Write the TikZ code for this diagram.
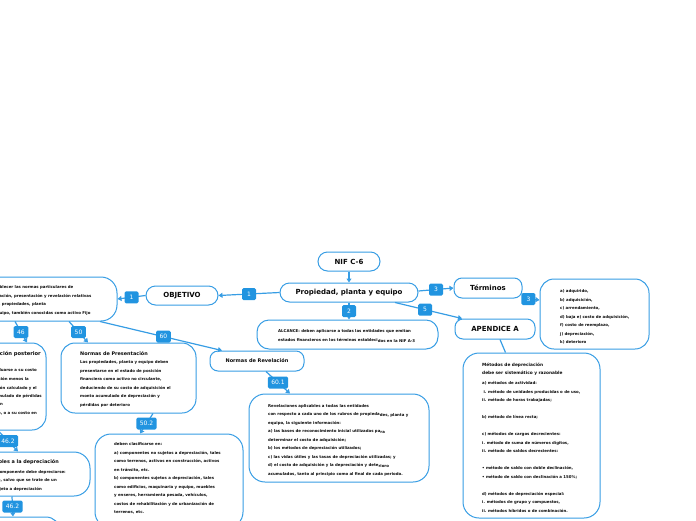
\documentclass[tikz,border=0pt]{standalone}
\usepackage{fontspec}
\setmainfont{DejaVu Sans}
\usetikzlibrary{arrows.meta}
\definecolor{bl}{RGB}{55,157,228}
\definecolor{lab}{RGB}{33,148,224}
\definecolor{txt}{RGB}{10,10,10}
\newcommand\firststrut{\rule{0pt}{3.7pt}}
\begin{document}
\begin{tikzpicture}[x=1pt,y=-1pt,
  every node/.style={text=txt},
  box/.style={draw=bl, line width=1pt, fill=white, rounded corners=#1, inner sep=0pt},
  box/.default=9pt,
  hd/.style={font=\fontsize{7}{8}\selectfont\bfseries},
  lbl/.style={fill=lab, text=white, rounded corners=1.5pt, minimum width=14pt, minimum height=12pt, inner xsep=3.5pt, inner ysep=0pt, font=\fontsize{6}{7}\selectfont},
  conn/.style={draw=bl, line width=1.2pt, -{Triangle[length=4pt,width=5pt]}},
  plainline/.style={draw=bl, line width=1.2pt},
  body/.style={anchor=north west, inner sep=0pt, align=left, font=\fontsize{3.9}{8.5}\selectfont\bfseries},
  ttl/.style={anchor=base west, inner sep=0pt, font=\fontsize{4.9}{6}\selectfont\bfseries},
  rline/.style={anchor=base east, inner sep=0pt, font=\fontsize{3.9}{5}\selectfont\bfseries},
  rttl/.style={anchor=base east, inner sep=0pt, font=\fontsize{4.9}{6}\selectfont\bfseries},
]
\useasboundingbox (0,0) rectangle (696,520);

% small boxes
\node[box=9.5pt, minimum width=62pt, minimum height=19pt, hd] (nif) at (349,261.5) {NIF C-6};
\node[box=9.5pt, minimum width=138pt, minimum height=19pt, hd] (prop) at (349,292.5) {Propiedad, planta y equipo};
\node[box=9.5pt, minimum width=72pt, minimum height=19pt, hd] (obj) at (182,295.5) {OBJETIVO};
\node[box=8pt, minimum width=94pt, minimum height=20pt, font=\fontsize{5}{6}\selectfont\bfseries] (nrev) at (257,361) {Normas de Revelación};
\node[box=8pt, minimum width=68pt, minimum height=20pt, hd] (term) at (488,288) {Términos};
\node[box=8pt, minimum width=80pt, minimum height=20pt, hd] (apx) at (495,329) {APENDICE A};

% big boxes
\node[box=16pt, minimum width=157pt, minimum height=44pt] (lefttop) at (38.5,299) {};
\node[box=14pt, minimum width=106pt, minimum height=87pt] (b46) at (-7,386.5) {};
\node[box=16pt, minimum width=150pt, minimum height=44pt] (b462) at (15,474) {};
\node[box=14pt, minimum width=120pt, minimum height=43pt] (bbot) at (0,538.5) {};
\node[box=14pt, minimum width=135pt, minimum height=70pt] (pres) at (128.5,378) {};
\node[box=16pt, minimum width=148pt, minimum height=94pt] (b502) at (169,481) {};
\node[box=16pt, minimum width=180pt, minimum height=88pt] (rev) at (339,438) {};
\node[box=12pt, minimum width=181pt, minimum height=29pt] (alc) at (347.5,334.5) {};
\node[box=14pt, minimum width=109pt, minimum height=70pt] (terms) at (594.5,314) {};
\node[box=16pt, minimum width=137pt, minimum height=165pt] (meth) at (531.5,435.5) {};

% connectors
\draw[conn] (nif) -- (prop);
\draw[conn] (prop.west) -- node[lbl] (l1a) {1} (obj.east);
\draw[conn] (obj.west) -- node[lbl] (l1b) {1} (lefttop.east);
\draw[conn] ([xshift=-23.5pt]lefttop.south) -- node[lbl] (l46) {46} ([xshift=34pt]b46.north);
\draw[conn] ([xshift=30.5pt]lefttop.south) -- node[lbl] (l50) {50} ([xshift=-40.5pt]pres.north);
\draw[conn] ([xshift=61.5pt]lefttop.south) -- node[lbl,pos=0.52] (l60) {60} ([xshift=-35pt]nrev.north);
\draw[conn] ([xshift=5pt]b46.south) -- node[lbl] (l462a) {46.2} ([xshift=3pt]b462.north);
\draw[conn] ([xshift=-3pt]b462.south) -- node[lbl] (l462b) {46.2} ([xshift=13pt]bbot.north);
\draw[conn] ([xshift=24.5pt]pres.south) -- node[lbl] (l502) {50.2} ([xshift=-29pt]b502.north);
\draw[conn] ([xshift=9pt]nrev.south) -- node[lbl] (l601) {60.1} ([xshift=-49pt]rev.north);
\draw[conn] (prop.south) -- node[lbl] (l2) {2} ([xshift=1.5pt]alc.north);
\draw[conn] ([xshift=46pt]prop.south) -- node[lbl,pos=0.45] (l5) {5} ([xshift=-33pt]apx.north);
\draw[conn] ([yshift=1.5pt]prop.east) -- node[lbl] (l3a) {3} (term.west);
\draw[conn] (term.south east) -- node[lbl,pos=0.35] (l3b) {3} ([yshift=14pt]terms.west);
\draw[plainline] ([xshift=5pt]apx.south) -- ([xshift=-26pt]meth.north);

% texts
\node[body] (tlt) at (-10,284.6) {\firststrut Establecer las normas particulares de\\ valuación, presentación y revelación relativas\\ a las propiedades, planta\\ y equipo, también conocidas como activo Fijo};

\node[rttl, font=\fontsize{5.2}{6}\selectfont\bfseries] (t46a) at (41,355) {Medición posterior};
\node[rline] (t46b) at (37,371.5) {Deben valuarse a su costo};
\node[rline] (t46c) at (29,380.5) {de adquisición menos la};
\node[rline] (t46d) at (37,389.5) {depreciación calculado y el};
\node[rline] (t46e) at (42,397.5) {importe acumulado de pérdidas};
\node[rline] (t46f) at (3,405.5) {por deterioro, en};
\node[rline] (t46g) at (37,414.5) {su caso, o a su costo en};

\node[rttl] (t462a) at (59,463.5) {Partes aplicables a la depreciación};
\node[rline] (t462b) at (66,473) {Cada componente debe depreciarse:};
\node[rline] (t462c) at (57,481.5) {por separado, salvo que se trate de un};
\node[rline] (t462d) at (42,490.5) {componente no sujeto a depreciación};

\node[ttl] (tpt) at (80,355) {Normas de Presentación};
\node[body] (tpb) at (80,359.6) {\firststrut Las propiedades, planta y equipo deben\\ presentarse en el estado de posición\\ financiera como activo no circulante,\\ deduciendo de su costo de adquisición el\\ monto acumulado de depreciación y\\ pérdidas por deterioro};

\node[body] (trev) at (268,403.3) {\firststrut Revelaciones aplicables a todas las entidades\\ con respecto a cada uno de los rubros de propieda\raisebox{-1.2pt}{des, planta y}\\ equipo, la siguiente información:\\ a) las bases de reconocimiento inicial utilizadas pa\raisebox{-1.2pt}{ra}\\ determinar el costo de adquisición;\\ b) los métodos de depreciación utilizados;\\ c) las vidas útiles y las tasas de depreciación utilizadas; y\\ d) el costo de adquisición y la depreciación y dete\raisebox{-1.2pt}{rioro}\\ acumulados, tanto al principio como al final de cada periodo.};

\node[body] (talc) at (278,328.6) {\firststrut ALCANCE: deben aplicarse a todas las entidades que emitan\\ estados financieros en los términos estableci\raisebox{-1.2pt}{dos en la NIF A-3}};

\node[body] (t502) at (114,441.6) {\firststrut deben clasificarse en:\\ a) componentes no sujetos a depreciación, tales\\ como terrenos, activos en construcción, activos\\ en tránsito, etc.\\ b) componentes sujetos a depreciación, tales\\ como edificios, maquinaria y equipo, muebles\\ y enseres, herramienta pesada, vehículos,\\ costos de rehabilitación y de urbanización de\\ terrenos, etc.};

\node[body] (tterms) at (560,288.6) {\firststrut a) adquirido,\\ b) adquisición,\\ c) arrendamiento,\\ d) baja e) costo de adquisición,\\ f) costo de reemplazo,\\ j) depreciación,\\ k) deterioro};

\node[anchor=north west, inner sep=0pt, align=left, font=\fontsize{4.3}{8}\selectfont\bfseries] (tmt) at (482,362.5) {\rule{0pt}{4pt}Métodos de depreciación\\ debe ser sistemático y razonable};
\node[body] (tmb) at (482,380.6) {\firststrut a) métodos de actividad:\\ \ i. método de unidades producidas o de uso,\\ ii. método de horas trabajadas;\\[8.5pt] b) método de línea recta;\\[8.5pt] c) métodos de cargos decrecientes:\\ i. método de suma de números dígitos,\\ ii. método de saldos decrecientes:\\[8.5pt] • método de saldo con doble declinación,\\ • método de saldo con declinación a 150\%;\\[8.5pt] d) métodos de depreciación especial:\\ i. métodos de grupo y compuestos,\\ ii. métodos híbridos o de combinación.};
\end{tikzpicture}
\end{document}
